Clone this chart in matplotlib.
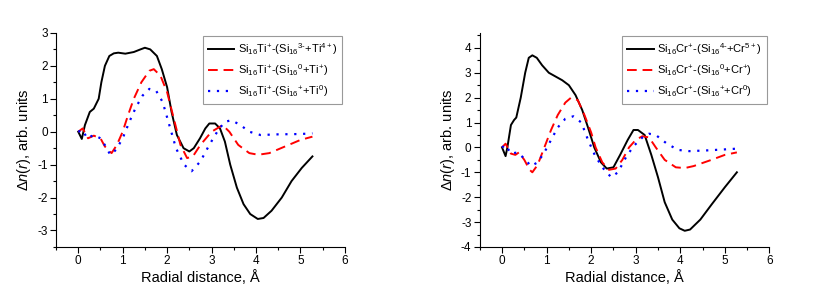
import numpy as np
import matplotlib
matplotlib.use('Agg')
import matplotlib.pyplot as plt
from matplotlib.ticker import MultipleLocator

plt.rcParams['font.family'] = ['Liberation Sans', 'DejaVu Sans']
plt.rcParams['mathtext.fontset'] = 'custom'
plt.rcParams['mathtext.rm'] = 'Liberation Sans'
plt.rcParams['mathtext.it'] = 'Liberation Sans:italic'
plt.rcParams['mathtext.bf'] = 'Liberation Sans:bold'
plt.rcParams['axes.unicode_minus'] = False

# --- Si16Ti+ panel ---
ti_black_x = [0, 0.08, 0.15, 0.26, 0.35, 0.46, 0.52, 0.6, 0.7, 0.8, 0.9, 1.06, 1.25, 1.4, 1.5,
              1.62, 1.77, 1.88, 2.0, 2.1, 2.22, 2.37, 2.5, 2.6, 2.74, 2.86, 2.95, 3.08, 3.19,
              3.3, 3.42, 3.57, 3.72, 3.87, 4.04, 4.17, 4.35, 4.58, 4.8, 5.03, 5.27]
ti_black_y = [0, -0.22, 0.2, 0.6, 0.7, 1.0, 1.5, 2.0, 2.3, 2.38, 2.4, 2.37, 2.42, 2.5, 2.55,
              2.5, 2.3, 1.9, 1.35, 0.6, -0.1, -0.5, -0.6, -0.5, -0.2, 0.1, 0.25, 0.25, 0.1,
              -0.3, -1.0, -1.7, -2.2, -2.5, -2.65, -2.62, -2.4, -2.0, -1.5, -1.1, -0.75]
ti_red_x = [0, 0.1, 0.22, 0.35, 0.5, 0.6, 0.75, 0.87, 1.0, 1.12, 1.25, 1.42, 1.6, 1.7, 1.85,
            2.0, 2.15, 2.3, 2.45, 2.58, 2.75, 3.0, 3.25, 3.4, 3.6, 3.85, 4.05, 4.3, 4.65,
            5.0, 5.27]
ti_red_y = [0, 0.1, -0.2, -0.12, -0.2, -0.45, -0.65, -0.4, 0, 0.5, 1.0, 1.5, 1.85, 1.9, 1.7,
            1.2, 0.4, -0.4, -0.8, -0.75, -0.4, 0, 0.2, 0, -0.4, -0.65, -0.7, -0.65, -0.45,
            -0.25, -0.15]
ti_blue_x = [0, 0.1, 0.2, 0.35, 0.5, 0.62, 0.72, 0.85, 1.0, 1.15, 1.3, 1.45, 1.6, 1.75, 1.9,
             2.05, 2.2, 2.38, 2.55, 2.75, 2.95, 3.15, 3.3, 3.45, 3.65, 3.85, 4.1, 4.5, 5.0,
             5.27]
ti_blue_y = [0, 0.05, -0.2, -0.1, -0.2, -0.45, -0.7, -0.55, -0.2, 0.3, 0.75, 1.1, 1.3, 1.25,
             0.9, 0.2, -0.5, -1.0, -1.2, -0.9, -0.4, 0.05, 0.3, 0.35, 0.2, 0.0, -0.1, -0.08,
             -0.07, -0.05]

# --- Si16Cr+ panel ---
cr_black_x = [0, 0.08, 0.12, 0.2, 0.27, 0.32, 0.42, 0.52, 0.6, 0.68, 0.78, 0.9, 1.05, 1.2,
              1.35, 1.5, 1.65, 1.8, 1.93, 2.07, 2.22, 2.35, 2.5, 2.65, 2.82, 2.95, 3.05, 3.2,
              3.35, 3.5, 3.65, 3.82, 3.98, 4.1, 4.22, 4.45, 4.7, 5.0, 5.27]
cr_black_y = [0, -0.35, 0, 0.9, 1.1, 1.2, 2.0, 3.0, 3.6, 3.7, 3.6, 3.3, 3.0, 2.85,
              2.7, 2.5, 2.1, 1.5, 0.8, 0, -0.6, -0.85, -0.8, -0.3, 0.3, 0.7, 0.7, 0.5,
              -0.3, -1.2, -2.2, -2.9, -3.25, -3.35, -3.3, -2.9, -2.3, -1.6, -1.0]
cr_red_x = [0, 0.08, 0.2, 0.3, 0.38, 0.5, 0.62, 0.68, 0.8, 0.95, 1.1, 1.25, 1.42, 1.55, 1.7,
            1.85, 2.0, 2.1, 2.25, 2.4, 2.55, 2.7, 2.85, 3.0, 3.15, 3.3, 3.45, 3.65, 3.9, 4.1,
            4.3, 4.7, 5.0, 5.27]
cr_red_y = [0, 0.15, -0.25, -0.3, -0.2, -0.5, -0.9, -1.0, -0.7, 0, 0.7, 1.3, 1.8, 2.0, 1.9,
            1.3, 0.6, 0, -0.6, -0.9, -0.85, -0.5, 0, 0.3, 0.45, 0.4, 0, -0.5, -0.8, -0.83,
            -0.75, -0.5, -0.3, -0.2]
cr_blue_x = [0, 0.08, 0.2, 0.35, 0.5, 0.65, 0.8, 0.95, 1.1, 1.25, 1.42, 1.6, 1.78, 1.93, 2.08,
             2.25, 2.45, 2.6, 2.78, 2.95, 3.15, 3.3, 3.45, 3.7, 3.95, 4.2, 4.6, 5.0, 5.27]
cr_blue_y = [0, 0.1, -0.25, -0.2, -0.45, -0.75, -0.6, -0.2, 0.3, 0.8, 1.15, 1.25, 1.0, 0.3,
             -0.3, -0.8, -1.2, -1.0, -0.4, 0.05, 0.4, 0.55, 0.5, 0.15, -0.1, -0.15, -0.12,
             -0.08, -0.05]

ti_labels = ['Si$_{16}$Ti$^{+}$-(Si$_{16}{}^{3\u2010}$+Ti$^{4+}$)',
             'Si$_{16}$Ti$^{+}$-(Si$_{16}{}^{0}$+Ti$^{+}$)',
             'Si$_{16}$Ti$^{+}$-(Si$_{16}{}^{+}$+Ti$^{0}$)']
cr_labels = ['Si$_{16}$Cr$^{+}$-(Si$_{16}{}^{4\u2010}$+Cr$^{5+}$)',
             'Si$_{16}$Cr$^{+}$-(Si$_{16}{}^{0}$+Cr$^{+}$)',
             'Si$_{16}$Cr$^{+}$-(Si$_{16}{}^{+}$+Cr$^{0}$)']

fig = plt.figure(figsize=(8.3, 2.94), dpi=100)
ax1 = fig.add_axes([0.0675, 0.16, 0.348, 0.728])
ax2 = fig.add_axes([0.578, 0.16, 0.349, 0.728])


def panel(ax, series, labels, ylim):
    styles = [dict(color='black', linestyle='-', lw=1.4),
              dict(color='red', linestyle=(0, (5, 3)), lw=1.4),
              dict(color='blue', linestyle=(0, (1, 3)), lw=1.6)]
    for (xs, ys), lab, st in zip(series, labels, styles):
        ax.plot(xs, ys, label=lab, **st)
    ax.set_xlim(-0.5, 6)
    ax.set_ylim(*ylim)
    ax.spines['top'].set_visible(False)
    ax.spines['right'].set_visible(False)
    ax.xaxis.set_major_locator(MultipleLocator(1))
    ax.xaxis.set_minor_locator(MultipleLocator(0.5))
    ax.yaxis.set_major_locator(MultipleLocator(1))
    ax.yaxis.set_minor_locator(MultipleLocator(0.5))
    ax.tick_params(which='major', direction='out', length=4, width=0.8, labelsize=8.5, pad=2)
    ax.tick_params(which='minor', direction='out', length=2, width=0.8)
    ax.set_xlabel('Radial distance, Å', fontsize=10.5, labelpad=2)
    ax.set_ylabel(r'$\mathit{\Delta n}(\mathit{r})$, arb. units', fontsize=10.5, labelpad=3)
    leg = ax.legend(loc='upper right', bbox_to_anchor=(1.01, 1.01), fontsize=8,
                    frameon=True, fancybox=False, edgecolor='gray', handlelength=2.4,
                    handletextpad=0.3, borderpad=0.45, labelspacing=0.45)
    leg.get_frame().set_linewidth(0.8)


panel(ax1, [(ti_black_x, ti_black_y), (ti_red_x, ti_red_y), (ti_blue_x, ti_blue_y)],
      ti_labels, (-3.5, 3))
panel(ax2, [(cr_black_x, cr_black_y), (cr_red_x, cr_red_y), (cr_blue_x, cr_blue_y)],
      cr_labels, (-4, 4.6))

fig.savefig('out.png', dpi=100)
